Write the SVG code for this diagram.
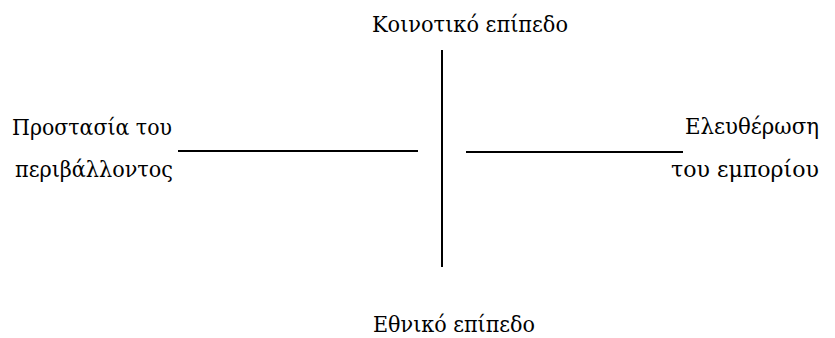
<svg xmlns="http://www.w3.org/2000/svg" width="835" height="338" viewBox="0 0 835 338">
<style>
text{font-family:'DejaVu Serif',serif;font-size:22px;fill:#000}
.ln{stroke:#000;stroke-width:2;fill:none}
</style>
<rect width="835" height="338" fill="#fff"/>
<g id="connectors">
<line class="ln" x1="442" y1="50" x2="442" y2="267"/>
<line class="ln" x1="178" y1="151" x2="418" y2="151"/>
<line class="ln" x1="466" y1="152" x2="683" y2="152"/>
</g>
<g id="top"><text x="372" y="32" textLength="196" lengthAdjust="spacingAndGlyphs">Κοινοτικό επίπεδο</text></g>
<g id="bottom"><text x="373" y="332" textLength="162" lengthAdjust="spacingAndGlyphs">Εθνικό επίπεδο</text></g>
<g id="left"><text x="12" y="135" textLength="160" lengthAdjust="spacingAndGlyphs">Προστασία του</text><text x="15" y="177" textLength="158" lengthAdjust="spacingAndGlyphs">περιβάλλοντος</text></g>
<g id="right"><text x="685" y="134" textLength="134" lengthAdjust="spacingAndGlyphs">Ελευθέρωση</text><text x="671" y="177" textLength="148" lengthAdjust="spacingAndGlyphs">του εμπορίου</text></g>
</svg>
